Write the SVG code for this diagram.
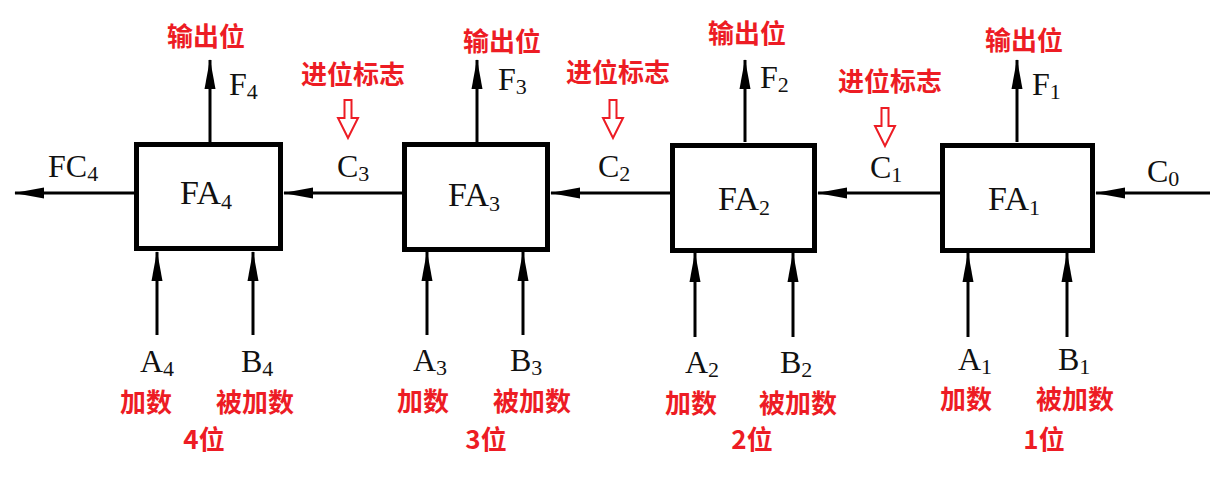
<svg xmlns="http://www.w3.org/2000/svg" width="1221" height="478" viewBox="0 0 1221 478">
<style>
.box{fill:#fff;stroke:#000;stroke-width:5}
.ln{stroke:#000;stroke-width:3;fill:none}
.lb{font-family:"Liberation Serif","DejaVu Serif",serif;font-size:32px;fill:#111}
.fa{font-size:34px}
.sub{font-size:22px}
.red{font-family:"Noto Sans CJK SC","Noto Sans",sans-serif;font-weight:bold;font-size:26px;fill:#ED1C24;text-anchor:middle}
.hol{fill:#fff;stroke:#ED1C24;stroke-width:2}
</style>
<defs>
<marker id="ah" markerUnits="userSpaceOnUse" markerWidth="30" markerHeight="12" refX="29" refY="6" orient="auto">
<path d="M0,0.5 L30,6 L0,11.5 z" fill="#000"/>
</marker>
<path id="hd" d="M-3.5,0 h7 v18 h6.5 l-10,20 l-10,-20 h6.5 z"/>
</defs>
<rect width="1221" height="478" fill="#fff"/>

<g id="connectors">
<line class="ln" x1="134" y1="193" x2="15" y2="193" marker-end="url(#ah)"/>
<line class="ln" x1="402" y1="193" x2="284" y2="193" marker-end="url(#ah)"/>
<line class="ln" x1="670" y1="193" x2="551" y2="193" marker-end="url(#ah)"/>
<line class="ln" x1="940" y1="193" x2="818" y2="193" marker-end="url(#ah)"/>
<line class="ln" x1="1210" y1="193" x2="1096" y2="193" marker-end="url(#ah)"/>
<line class="ln" x1="210" y1="142" x2="210" y2="60" marker-end="url(#ah)"/>
<line class="ln" x1="477" y1="142" x2="477" y2="60" marker-end="url(#ah)"/>
<line class="ln" x1="745" y1="142" x2="745" y2="60" marker-end="url(#ah)"/>
<line class="ln" x1="1017" y1="142" x2="1017" y2="60" marker-end="url(#ah)"/>
<line class="ln" x1="157" y1="335" x2="157" y2="252" marker-end="url(#ah)"/>
<line class="ln" x1="253" y1="335" x2="253" y2="252" marker-end="url(#ah)"/>
<line class="ln" x1="427" y1="335" x2="427" y2="252" marker-end="url(#ah)"/>
<line class="ln" x1="523" y1="335" x2="523" y2="252" marker-end="url(#ah)"/>
<line class="ln" x1="695" y1="337" x2="695" y2="253" marker-end="url(#ah)"/>
<line class="ln" x1="793" y1="337" x2="793" y2="253" marker-end="url(#ah)"/>
<line class="ln" x1="968" y1="337" x2="968" y2="253" marker-end="url(#ah)"/>
<line class="ln" x1="1067" y1="337" x2="1067" y2="253" marker-end="url(#ah)"/>
</g>

<g id="FA4">
<rect class="box" x="136.5" y="144.5" width="144" height="104"/>
<text class="lb fa" x="180" y="204">FA<tspan class="sub" dy="5">4</tspan></text>
</g>
<g id="FA3">
<rect class="box" x="404.5" y="144.5" width="143" height="105"/>
<text class="lb fa" x="448" y="206">FA<tspan class="sub" dy="5">3</tspan></text>
</g>
<g id="FA2">
<rect class="box" x="672.5" y="145.5" width="142" height="105"/>
<text class="lb fa" x="718" y="210">FA<tspan class="sub" dy="5">2</tspan></text>
</g>
<g id="FA1">
<rect class="box" x="942.5" y="145.5" width="150" height="105"/>
<text class="lb fa" x="988" y="210">FA<tspan class="sub" dy="5">1</tspan></text>
</g>

<g id="signal-labels">
<text class="lb" x="229" y="95">F<tspan class="sub" dy="4">4</tspan></text>
<text class="lb" x="498" y="90">F<tspan class="sub" dy="4">3</tspan></text>
<text class="lb" x="760" y="88">F<tspan class="sub" dy="4">2</tspan></text>
<text class="lb" x="1032" y="95">F<tspan class="sub" dy="4">1</tspan></text>
<text class="lb" x="48" y="177">FC<tspan class="sub" dy="4">4</tspan></text>
<text class="lb" x="337" y="177">C<tspan class="sub" dy="4">3</tspan></text>
<text class="lb" x="598" y="177">C<tspan class="sub" dy="4">2</tspan></text>
<text class="lb" x="870" y="178">C<tspan class="sub" dy="4">1</tspan></text>
<text class="lb" x="1147" y="182">C<tspan class="sub" dy="4">0</tspan></text>
<text class="lb" x="140" y="372">A<tspan class="sub" dy="4">4</tspan></text>
<text class="lb" x="241" y="372">B<tspan class="sub" dy="4">4</tspan></text>
<text class="lb" x="413" y="371">A<tspan class="sub" dy="4">3</tspan></text>
<text class="lb" x="510" y="371">B<tspan class="sub" dy="4">3</tspan></text>
<text class="lb" x="685" y="373">A<tspan class="sub" dy="4">2</tspan></text>
<text class="lb" x="780" y="373">B<tspan class="sub" dy="4">2</tspan></text>
<text class="lb" x="958" y="370">A<tspan class="sub" dy="4">1</tspan></text>
<text class="lb" x="1058" y="370">B<tspan class="sub" dy="4">1</tspan></text>
</g>

<g id="annotations">
<text class="red" x="206" y="46">输出位</text>
<text class="red" x="502" y="51">输出位</text>
<text class="red" x="747" y="43">输出位</text>
<text class="red" x="1024" y="50">输出位</text>
<text class="red" x="353" y="84">进位标志</text>
<text class="red" x="618" y="82">进位标志</text>
<text class="red" x="890" y="91">进位标志</text>
<use href="#hd" class="hol" x="348" y="100"/>
<use href="#hd" class="hol" x="613" y="100"/>
<use href="#hd" class="hol" x="885" y="108"/>
<text class="red" x="146" y="412">加数</text>
<text class="red" x="255" y="412">被加数</text>
<text class="red" x="423" y="411">加数</text>
<text class="red" x="532" y="411">被加数</text>
<text class="red" x="691" y="413">加数</text>
<text class="red" x="798" y="413">被加数</text>
<text class="red" x="966" y="409">加数</text>
<text class="red" x="1075" y="409">被加数</text>
<text class="red" x="204" y="449">4位</text>
<text class="red" x="486" y="449">3位</text>
<text class="red" x="752" y="449">2位</text>
<text class="red" x="1044" y="449">1位</text>
</g>
</svg>
